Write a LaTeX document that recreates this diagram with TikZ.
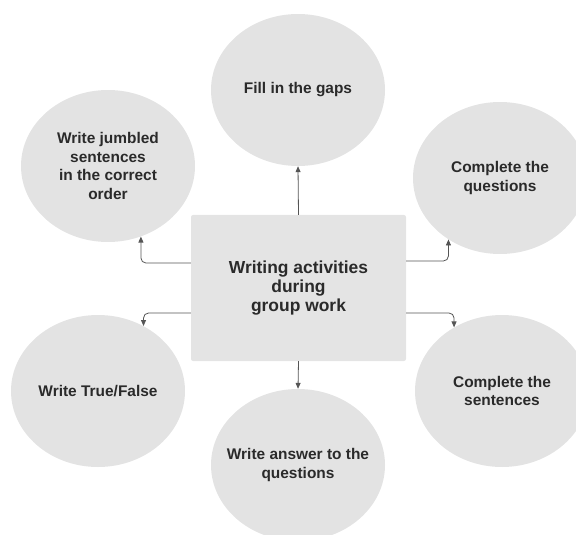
\documentclass[tikz,border=0pt]{standalone}
\usepackage{fontspec}
\setmainfont{Liberation Sans}
\usetikzlibrary{shapes.geometric,arrows.meta}

\definecolor{bubblegray}{HTML}{E3E3E3}
\definecolor{boxgray}{HTML}{E4E4E4}
\definecolor{inkgray}{HTML}{2A2A2A}
\definecolor{wiregray}{HTML}{555555}

\tikzset{
  bubble/.style={ellipse, fill=bubblegray, minimum width=174bp, minimum height=152bp,
    inner xsep=-25bp, inner ysep=0pt, align=center, text=inkgray,
    font=\bfseries\fontsize{15.5}{19}\selectfont},
  hub/.style={rectangle, rounded corners=2bp, fill=boxgray, minimum width=215bp,
    minimum height=146bp, align=center, text=inkgray,
    font=\bfseries\fontsize{17.5}{19.5}\selectfont},
  wire/.style={draw=wiregray, line width=0.8bp, rounded corners=5bp,
    -{Triangle[length=6bp,width=5bp]}}
}

\begin{document}
\begin{tikzpicture}[x=1bp, y=-1bp]
  \useasboundingbox (0,0) rectangle (576,535);

  % central box
  \node[hub] (hub) at (298.5,288) {Writing activities\\during\\group work};

  % surrounding activities
  \node[bubble] (gaps)      at (298,90)  {Fill in the gaps};
  \node[bubble] (jumbled)   at (108,166) {Write jumbled\\sentences\\in the correct\\order};
  \node[bubble] (questions) at (500,178) {Complete the\\questions};
  \node[bubble] (truefalse) at (98,391)  {Write True/False};
  \node[bubble] (sentences) at (502,391) {Complete the\\sentences};
  \node[bubble] (answer)    at (298,465) {Write answer to the\\questions};

  % connectors from the box to each activity
  \draw[wire] (hub.north) -- (gaps.south);
  \draw[wire] (hub.south) -- (answer.north);
  \draw[wire] (hub.west |- 0,263) -| (jumbled.-65);
  \draw[wire] (hub.west |- 0,313) -| (truefalse.55);
  \draw[wire] (hub.east |- 0,261) -| (questions.-130);
  \draw[wire] (hub.east |- 0,313) -| (sentences.127);
\end{tikzpicture}
\end{document}
